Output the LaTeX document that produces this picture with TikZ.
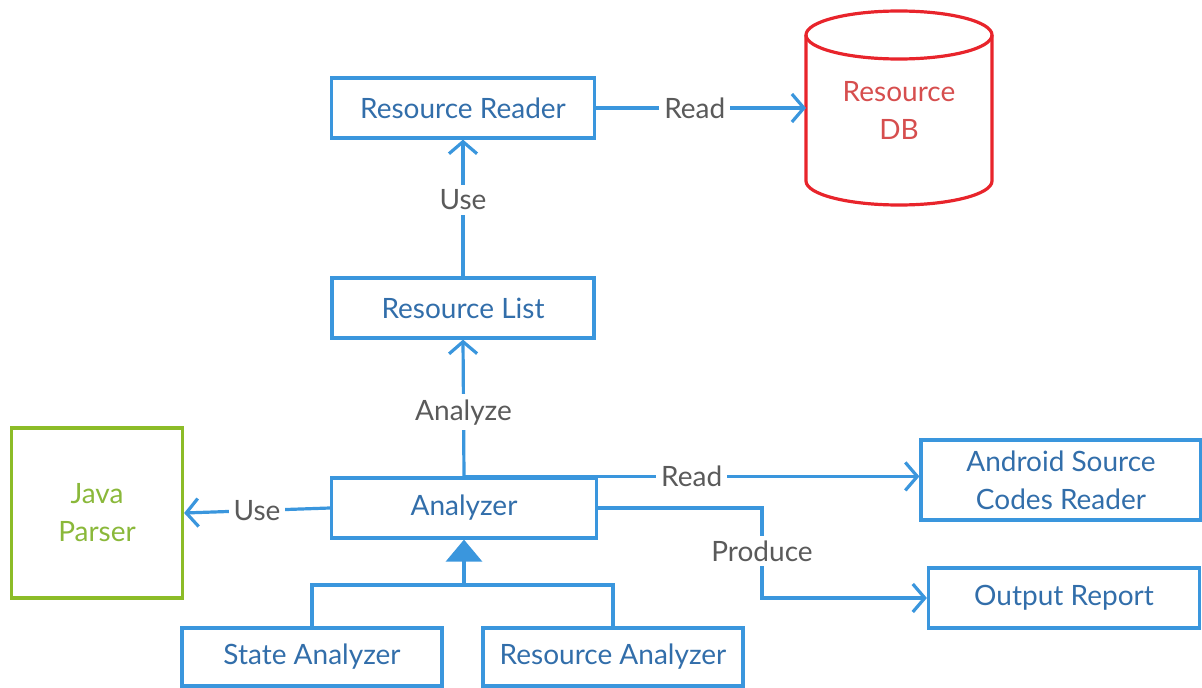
\documentclass[tikz,border=0pt]{standalone}
\usepackage{fontspec}
\setmainfont{Lato}
\usetikzlibrary{arrows.meta}

\definecolor{boxblue}{RGB}{58,150,221}
\definecolor{txtblue}{RGB}{50,110,170}
\definecolor{lblgray}{RGB}{90,90,90}
\definecolor{dbred}{RGB}{232,36,43}
\definecolor{dbtxt}{RGB}{214,78,78}
\definecolor{jgreen}{RGB}{140,188,40}
\definecolor{jtxt}{RGB}{138,184,58}

\tikzset{
  box/.style={draw=boxblue, line width=3.2pt, text=txtblue, align=center, minimum height=60pt, inner sep=0pt},
  lbl/.style={fill=white, text=lblgray, inner sep=5pt},
  conn/.style={draw=boxblue, line width=3.2pt, -{Straight Barb[length=12pt,width=28pt]}},
  link/.style={draw=boxblue, line width=3.2pt},
}

\begin{document}
\begin{tikzpicture}[x=1pt,y=1pt,yscale=-1,xscale=1, font=\fontsize{28}{38}\selectfont]
\useasboundingbox (0,0) rectangle (1202,688);

%Boxes
\node[box, minimum width=263pt] (reader) at (463,108) {Resource Reader};
\node[box, minimum width=262pt] (list) at (463,308) {Resource List};
\node[box, minimum width=265pt] (ana) at (464,508) {Analyzer};
\node[box, minimum width=280pt, minimum height=80pt] (andr) at (1061,480) {Android Source\\Codes Reader};
\node[box, minimum width=271pt] (out) at (1064,598) {Output Report};
\node[box, minimum width=260pt, minimum height=58pt] (state) at (312,657) {State Analyzer};
\node[box, minimum width=260pt, minimum height=58pt] (resan) at (613,657) {Resource Analyzer};
\node[draw=jgreen, line width=3.2pt, text=jtxt, align=center, minimum width=171pt, minimum height=170pt] (java) at (97,513) {Java\\Parser};

%Cylinder
\draw[dbred, line width=3.2pt] (806,35) -- (806,181) arc[start angle=180, end angle=0, x radius=93, y radius=24] -- (992,35);
\draw[dbred, line width=3.2pt] (899,35) ellipse [x radius=93, y radius=24];
\node[text=dbtxt, align=center] (db) at (899,110) {Resource\\DB};
\coordinate (dbin) at (806,108);

%Connectors
\draw[conn] (reader.east) -- (dbin) node[lbl, pos=.47] {Read};
\draw[conn] (list.north) -- (reader.south) node[lbl, pos=.56] {Use};
\draw[conn] (ana.north) -- (list.south) node[lbl, pos=.47] {Analyze};
\draw[conn] (ana.north) -- (ana.north -| andr.west) node[lbl, midway] {Read};
\draw[conn] (ana.west) -- (java.east) node[lbl, midway] {Use};
\coordinate (prod) at (762,551);
\draw[conn] (ana.east) -| (prod) |- (out.west);
\node[lbl] (prodlbl) at (prod) {Produce};

%Inheritance
\coordinate (join) at (464,585);
\draw[link] (state.north) |- (join) -| (resan.north);
\draw[link, -{Triangle[length=22pt,width=36pt]}] (join) -- (ana.south);

\end{tikzpicture}
\end{document}
